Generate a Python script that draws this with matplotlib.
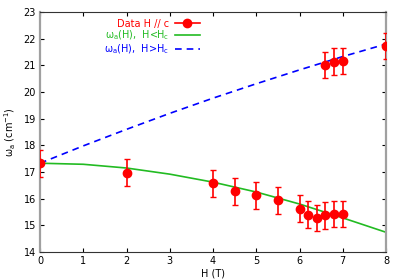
import matplotlib
matplotlib.use("Agg")
import matplotlib.pyplot as plt
from matplotlib.lines import Line2D
import numpy as np

# Donnees mesurees (H en T, omega en cm^-1)
h_data = [0, 2, 4, 4.5, 5, 5.5, 6, 6.2, 6.4, 6.6, 6.8, 7.0, 6.6, 6.8, 7.0, 8.0]
w_data = [17.33, 16.97, 16.58, 16.28, 16.12, 15.94, 15.63, 15.40, 15.27, 15.38, 15.42, 15.42,
          21.01, 21.14, 21.16, 21.72]
w_err = [0.5] * len(h_data)

# Courbes theoriques
h_curve = [0, 1, 2, 3, 4, 5, 6, 7, 8]
w_low = [17.33, 17.29, 17.15, 16.92, 16.62, 16.25, 15.80, 15.28, 14.74]
w_high = [17.33, 17.98, 18.60, 19.20, 19.77, 20.31, 20.83, 21.33, 21.80]

plt.rcParams['font.family'] = ['DejaVu Sans']
plt.rcParams['font.size'] = 7
plt.rcParams['mathtext.default'] = 'regular'

fig = plt.figure(figsize=(4, 2.8), dpi=100)
ax = fig.add_axes([0.1, 0.1, 0.865, 0.857])

ax.errorbar(h_data, w_data, yerr=w_err, fmt='o', color='red', ms=6,
            capsize=2.5, elinewidth=1.2, capthick=1, zorder=3)
l1, = ax.plot(h_curve, w_low, color='#22bb22', lw=1.2, label=r'$\omega_a$(H),  H<H$_c$')
l2, = ax.plot(h_curve, w_high, color='blue', lw=1.2, ls=(0, (4, 3)), label=r'$\omega_a$(H),  H>H$_c$')

# poignee de legende style gnuplot (barre horizontale + point)
h_pt = Line2D([], [], color='red', lw=1.2, marker='o', ms=6, label='Data H // c')

ax.set_xlim(0, 8)
ax.set_ylim(14, 23)
ax.set_xticks(np.arange(0, 9, 1))
ax.set_yticks(np.arange(14, 24, 1))
ax.tick_params(direction='in', top=True, right=True, length=3, width=0.8, pad=3)
ax.set_xlabel('H (T)', labelpad=2)
ax.set_ylabel(r'$\omega_a$ (cm$^{-1}$)', labelpad=4)

for side in ['left', 'right']:
    ax.spines[side].set_color('#a0a0a0')
    ax.spines[side].set_linewidth(1.6)
for side in ['top', 'bottom']:
    ax.spines[side].set_color('#333333')
    ax.spines[side].set_linewidth(0.8)

leg = ax.legend(handles=[h_pt, l1, l2], loc='upper right',
                bbox_to_anchor=(205 / 400, 1 - 14 / 280),
                bbox_transform=fig.transFigure, frameon=False, markerfirst=False,
                handlelength=2.6, labelspacing=0.0, handletextpad=0.6, borderpad=0,
                labelcolor=['red', '#22bb22', 'blue'])

fig.savefig('out.png', dpi=100)
